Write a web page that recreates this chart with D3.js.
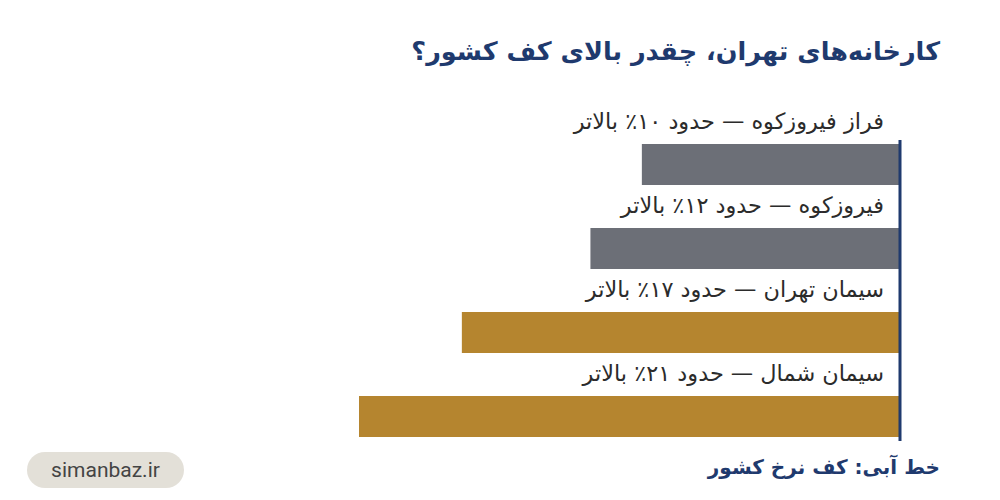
<!DOCTYPE html>
<html><head><meta charset="utf-8">
<script src="https://cdn.jsdelivr.net/npm/d3@7"></script>
<style>body{margin:0;background:#fff;} svg{display:block;font-family:"DejaVu Sans","Noto Sans",sans-serif;}</style>
</head><body>
<script>
const labels = ["فراز فیروزکوه — حدود ۱۰٪ بالاتر","فیروزکوه — حدود ۱۲٪ بالاتر","سیمان تهران — حدود ۱۷٪ بالاتر","سیمان شمال — حدود ۲۱٪ بالاتر"];
const values = [10, 12, 17, 21];
const colors = ["#6c6f77","#6c6f77","#b5852f","#b5852f"];
const title = "کارخانه‌های تهران، چقدر بالای کف کشور؟";
const footnote = "خط آبی: کف نرخ کشور";
const brand = "simanbaz.ir";

const W=1000,H=500;
const svg=d3.select("body").append("svg").attr("width",W).attr("height",H);
const x=d3.scaleLinear().domain([0,21]).range([899,359]);
const y=d3.scaleBand().domain(d3.range(values.length)).range([101,437]).paddingInner(0).paddingOuter(0);

svg.append("text").attr("x",940).attr("y",60).attr("text-anchor","start").attr("direction","rtl")
  .attr("font-size",25.5).attr("font-weight","bold").attr("fill","#1f3a6e").text(title);

const g=svg.append("g");
values.forEach((v,i)=>{
  const top=y(i)+y.bandwidth()-41;
  g.append("rect").attr("x",x(v)).attr("y",top).attr("width",x(0)-x(v)).attr("height",41).attr("fill",colors[i]);
  g.append("text").attr("x",884).attr("y",top-15).attr("text-anchor","start").attr("direction","rtl")
    .attr("font-size",22.4).attr("fill","#2b2b2b").text(labels[i]);
});
svg.append("line").attr("x1",x(0)+1).attr("x2",x(0)+1).attr("y1",140).attr("y2",441)
  .attr("stroke","#1f3a6e").attr("stroke-width",3);

svg.append("text").attr("x",940).attr("y",474).attr("text-anchor","start").attr("direction","rtl")
  .attr("font-size",20).attr("font-weight","bold").attr("fill","#1f3a6e").text(footnote);

svg.append("rect").attr("x",27).attr("y",452).attr("width",157).attr("height",36).attr("rx",18).attr("fill","#e3e0d8");
svg.append("text").attr("x",105.5).attr("y",477).attr("text-anchor","middle").attr("font-size",21)
  .attr("font-family","Roboto, sans-serif").attr("fill","#444").text(brand);
</script>
</body></html>
